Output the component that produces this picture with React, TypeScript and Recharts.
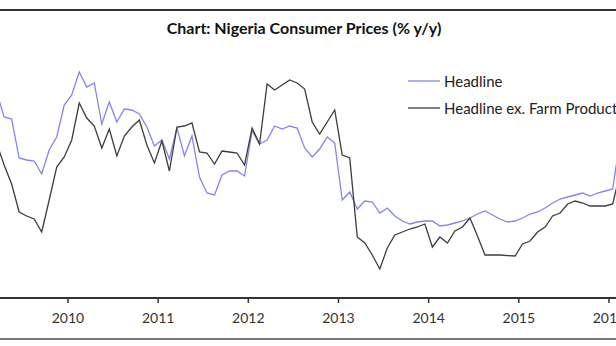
import React from "react";
import { LineChart, Line, XAxis, YAxis } from "recharts";

const START_YEAR = 2009;
const START_MONTH = 3; // March 2009

const headline = [
  14.3, 13.05, 12.95, 11.0, 10.9, 10.85, 10.2, 11.4, 12.05, 13.65,
  14.15, 15.3, 14.55, 14.75, 12.7, 13.8, 12.8, 13.45, 13.4, 13.2, 12.55, 11.6,
  11.9, 10.95, 12.5, 11.1, 12.1, 10.05, 9.25, 9.15, 10.15, 10.35, 10.35, 10.1,
  12.35, 11.7, 11.9, 12.6, 12.45, 12.6, 12.5, 11.5, 11.05, 11.45, 12.05, 11.75,
  8.9, 9.3, 8.45, 8.85, 8.8, 8.25, 8.5, 8.1, 7.85, 7.7, 7.8, 7.85,
  7.85, 7.6, 7.65, 7.75, 7.85, 8.0, 8.2, 8.35, 8.15, 7.95, 7.8, 7.85,
  8.0, 8.2, 8.3, 8.5, 8.75, 8.95, 9.05, 9.15, 9.25, 9.1, 9.25, 9.35,
  9.45, 12.0,
];

const exFarm = [
  11.75, 10.65, 9.7, 8.3, 8.1, 7.95, 7.3, 8.9, 10.55, 11.05,
  11.9, 13.75, 13.0, 12.6, 11.5, 12.45, 11.1, 12.1, 12.55, 12.9, 11.65, 10.75,
  11.85, 10.35, 12.55, 12.6, 12.75, 11.3, 11.25, 10.7, 11.35, 11.3, 11.25, 10.65,
  12.5, 11.7, 14.7, 14.4, 14.65, 14.9, 14.75, 14.45, 12.8, 12.2, 12.8, 13.4,
  11.15, 11.0, 7.05, 6.75, 6.15, 5.45, 6.5, 7.15, 7.3, 7.45, 7.55, 7.7,
  6.55, 7.05, 6.75, 7.35, 7.55, 8.0, 7.1, 6.15, 6.15, 6.15, 6.12, 6.1,
  6.7, 6.85, 7.3, 7.55, 8.1, 8.25, 8.7, 8.85, 8.75, 8.6, 8.6, 8.6,
  8.7, 10.3,
];

const yearTicks = [2010, 2011, 2012, 2013, 2014, 2015, 2016];

const seriesNames = ["Headline", "Headline ex. Farm Products"];
const seriesColors = ["#8484ec", "#3c3c3c"];

const data = headline.map((h, i) => {
  const monthIndex = START_MONTH - 1 + i;
  return {
    t: START_YEAR + (monthIndex + 0.5) / 12,
    headline: h,
    exFarm: exFarm[i],
  };
});

const FONT = "Lato, 'Open Sans', sans-serif";

const Tick = (props: any) => {
  const { x, y, payload } = props;
  return (
    <text x={x} y={y + 18} textAnchor="middle" fontFamily={FONT} fontSize={14} fill="#333">
      {payload.value}
    </text>
  );
};

export default function App() {
  return (
    <div
      style={{
        position: "absolute",
        left: 0,
        top: 0,
        width: 616,
        height: 346,
        background: "#fff",
        overflow: "hidden",
      }}
    >
      <div style={{ position: "absolute", left: 0, top: 9, width: 616, height: 2, background: "#333" }} />
      <div style={{ position: "absolute", left: 0, top: 338, width: 616, height: 1.5, background: "#777" }} />
      <div
        style={{
          position: "absolute",
          left: 0,
          top: 18,
          width: 608,
          textAlign: "center",
          fontFamily: FONT,
          fontWeight: 700,
          fontSize: 16,
          color: "#111",
        }}
      >
        Chart: Nigeria Consumer Prices (% y/y)
      </div>
      <div
        style={{
          position: "absolute",
          left: 408,
          top: 67,
          fontFamily: FONT,
          fontSize: 15,
          color: "#222",
          whiteSpace: "nowrap",
          zIndex: 2,
        }}
      >
        {seriesNames.map((name, i) => (
          <div key={name} style={{ display: "flex", alignItems: "center", height: 27 }}>
            <svg width={36} height={10} style={{ display: "block" }}>
              <line x1={0} y1={5} x2={32} y2={5} stroke={seriesColors[i]} strokeWidth={1.3} />
            </svg>
            <span>{name}</span>
          </div>
        ))}
      </div>
      <LineChart width={616} height={346} data={data} margin={{ top: 18, right: 0, bottom: 0, left: 0 }}>
        <XAxis
          dataKey="t"
          type="number"
          domain={[2009.246, 2016.078]}
          allowDataOverflow
          ticks={yearTicks}
          height={48}
          axisLine={{ stroke: "#333", strokeWidth: 2 }}
          tickLine={{ stroke: "#333", strokeWidth: 1.5 }}
          tickSize={5}
          tick={<Tick />}
          interval={0}
        />
        <YAxis hide domain={[4, 18]} allowDataOverflow />
        <Line
          type="linear"
          dataKey="headline"
          stroke={seriesColors[0]}
          strokeWidth={1.3}
          dot={false}
          isAnimationActive={false}
        />
        <Line
          type="linear"
          dataKey="exFarm"
          stroke={seriesColors[1]}
          strokeWidth={1.3}
          dot={false}
          isAnimationActive={false}
        />
      </LineChart>
    </div>
  );
}
